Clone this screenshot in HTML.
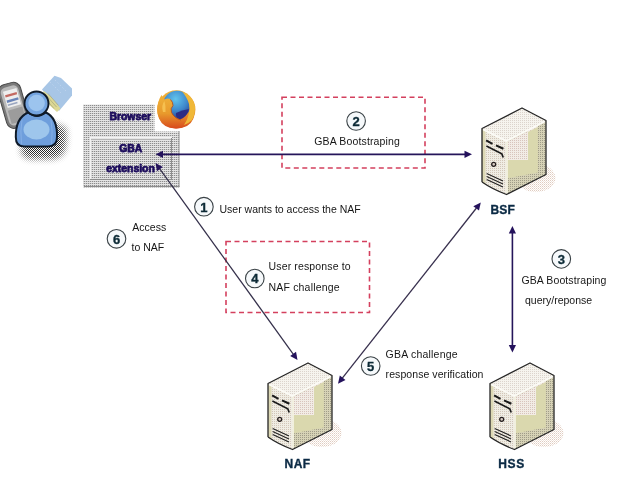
<!DOCTYPE html>
<html><head><meta charset="utf-8">
<style>
html,body{margin:0;padding:0;background:#fff;width:620px;height:480px;overflow:hidden}
svg{display:block;will-change:transform}
text{font-family:"Liberation Sans",sans-serif}
.t{font-size:10.5px;fill:#161616}
.num{font-size:13px;font-weight:bold;fill:#0c2a36;stroke:#0c2a36;stroke-width:0.35}
.lbl{font-size:12px;font-weight:bold;fill:#0b2a44;stroke:#0b2a44;stroke-width:0.35;letter-spacing:0.2px}
.bt{font-size:10px;font-weight:bold;fill:#1c0c5c;stroke:#1c0c5c;stroke-width:0.75}
</style></head>
<body>
<svg width="620" height="480" viewBox="0 0 620 480">
<defs>
  <pattern id="dots" x="0" y="1" width="2" height="2" patternUnits="userSpaceOnUse">
    <rect width="2" height="2" fill="#e4e4e4"/>
    <rect x="1" width="1" height="1" fill="#d0d0d0"/>
    <rect width="1" height="1" fill="#8c8c8c"/>
  </pattern>
  <filter id="blur3" x="-50%" y="-50%" width="200%" height="200%"><feGaussianBlur stdDeviation="3"/></filter>
  <pattern id="checker" width="2" height="2" patternUnits="userSpaceOnUse">
    <rect width="2" height="2" fill="#fff" fill-opacity="0"/>
    <rect width="1" height="1" fill="#000"/>
    <rect x="1" y="1" width="1" height="1" fill="#000"/>
  </pattern>
  <mask id="shmask">
    <path d="M23,141 Q23,122 39,120 Q53,122 66,128 Q67.5,147 63,154 Q58,159 50,159 L31,159 Q21,158 21,150 Z" fill="#fff" filter="url(#blur3)"/>
  </mask>
  <radialGradient id="shadowg" cx="0.5" cy="0.5" r="0.5">
    <stop offset="0" stop-color="#555" stop-opacity="0.85"/>
    <stop offset="0.6" stop-color="#666" stop-opacity="0.6"/>
    <stop offset="1" stop-color="#888" stop-opacity="0"/>
  </radialGradient>
  <linearGradient id="foxg" x1="0" y1="0" x2="0" y2="1">
    <stop offset="0" stop-color="#f0b23a"/>
    <stop offset="0.55" stop-color="#e89a2c"/>
    <stop offset="1" stop-color="#d84a1e"/>
  </linearGradient>
  <radialGradient id="globeg" cx="0.45" cy="0.3" r="0.7">
    <stop offset="0" stop-color="#62c4ec"/>
    <stop offset="0.6" stop-color="#3e88cc"/>
    <stop offset="1" stop-color="#2c4898"/>
  </radialGradient>
  <marker id="ah" viewBox="0 0 10 10" refX="10" refY="5" markerWidth="8" markerHeight="7" markerUnits="userSpaceOnUse" orient="auto-start-reverse">
    <path d="M0,0 L10,5 L0,10 L2.5,5 z" fill="#25155a"/>
  </marker>
  <pattern id="pinkdots" width="2" height="2" patternUnits="userSpaceOnUse">
    <rect width="2" height="2" fill="#f2ece6"/>
    <rect width="1" height="1" fill="#d8c4bc"/>
  </pattern>
  <pattern id="topdots" width="2" height="2" patternUnits="userSpaceOnUse">
    <rect width="2" height="2" fill="#f6f4ee"/>
    <rect width="1" height="1" fill="#dcd4cc"/>
  </pattern>
  <pattern id="darkdots" width="2" height="2" patternUnits="userSpaceOnUse">
    <rect width="2" height="2" fill="#d6d2b6"/>
    <rect width="1" height="1" fill="#a09c88"/>
  </pattern>
  <pattern id="shdots" width="2" height="2" patternUnits="userSpaceOnUse">
    <rect width="2" height="2" fill="#ffffff"/>
    <rect width="1" height="1" fill="#e0ccc0"/>
    <rect x="1" y="1" width="1" height="1" fill="#f0e4dc"/>
  </pattern>
  <pattern id="frontdots" width="2" height="2" patternUnits="userSpaceOnUse">
    <rect width="2" height="2" fill="#f0ede4"/>
    <rect width="1" height="1" fill="#d2c6b8"/>
  </pattern>
  <g id="server">
    <!-- shadow -->
    <ellipse cx="14" cy="70" rx="19.5" ry="14" fill="url(#shdots)"/>
    <!-- front face -->
    <path d="M-40,20.5 L-15.5,33 L-15.5,86.5 Q-30,81 -40,74 Z" fill="url(#frontdots)"/>
    <path d="M-40,20.5 L-36.5,22.3 L-36.5,76.5 L-40,74 Z" fill="#dcd8b4"/>
    <!-- side face -->
    <polygon points="-15.5,33 24,12.5 24,66.5 -15.5,86.5" fill="url(#darkdots)"/>
    <polygon points="-14.8,70.5 -14.8,52 6,52 6,22 15.8,17 15.8,64.5" fill="#dad8ae"/>
    <polygon points="-14.8,34 6,23.3 6,52 -14.8,52" fill="url(#pinkdots)"/>
    <polygon points="6,21.3 15.8,16.2 15.8,19 6,24" fill="url(#pinkdots)"/>
    <line x1="-15" y1="33.5" x2="-15" y2="86" stroke="#f4f2e2" stroke-width="1.8"/>
    <!-- top face -->
    <polygon points="0,0 24,12.5 -15.5,33 -40,20.5" fill="url(#topdots)"/>
    <polyline points="-39,21.5 -15.5,33 23,13.5" fill="none" stroke="#fcfbf6" stroke-width="1.6"/>
    <!-- outline -->
    <path d="M-40,74 L-40,20.5 L0,0 L24,12.5 L24,66.5 L-15.5,86.5 Q-30,81 -40,74" fill="none" stroke="#262626" stroke-width="1.3" stroke-linejoin="round"/>
    <!-- drive slots -->
    <path d="M-35.9,32.3 L-29.5,35.8 M-26,37.4 L-18.6,40.8" fill="none" stroke="#1a1a1a" stroke-width="2.1"/>
    <path d="M-35.6,38 L-20.2,45.8 L-18.8,49.5" fill="none" stroke="#1a1a1a" stroke-width="1.7"/>
    <circle cx="-28.3" cy="56.3" r="2" fill="#d8ccc4" stroke="#262020" stroke-width="1.3"/>
    <path d="M-35.3,65.6 L-19,72.9 M-35.3,68.6 L-19,75.9 M-35.3,71.6 L-19,78.9" fill="none" stroke="#222" stroke-width="1.1"/>
  </g>
</defs>

<!-- dashed boxes -->
<rect x="282" y="97.2" width="143" height="70.8" fill="none" stroke="#d4405e" stroke-width="1.6" stroke-dasharray="5 3.5"/>
<rect x="226" y="241.5" width="143.5" height="71" fill="none" stroke="#d4405e" stroke-width="1.6" stroke-dasharray="5 3.5"/>

<!-- person / phone / sim -->
<g>
  <rect x="10" y="110" width="70" height="56" fill="url(#checker)" mask="url(#shmask)" opacity="0.85"/>
  <!-- phone -->
  <g transform="rotate(-16 13 105)">
    <rect x="2" y="83" width="23" height="45" rx="7.5" fill="#7a7a7a" stroke="#4a4a4a" stroke-width="1"/>
    <rect x="4.5" y="86" width="18" height="39" rx="5" fill="#bababa"/>
    <rect x="7" y="89.5" width="14" height="17" fill="#eeeeee"/>
    <rect x="8" y="93.5" width="12" height="2.2" fill="#c46a62"/>
    <rect x="8" y="99" width="12" height="2.4" fill="#6a84b8"/>
    <rect x="8" y="103" width="10" height="1.5" fill="#9aa6c0"/>
    <rect x="6.5" y="109" width="15" height="14" fill="#9c9c9c"/>
  </g>
  <!-- sim -->
  <polygon points="54.5,75.8 61,78 72,88.5 72,95.5 59,111 42,89.5" fill="#a8c6e6"/>
  <polygon points="44,91 52,98 60.5,108.5 57,112 40.5,97" fill="#dcd896"/>
  <path d="M45.5,94.5 L56.5,107 M48,93.5 L58.5,105.5 M43,96 L54,108.5" stroke="#a8a878" stroke-width="0.7"/>
  <path d="M50,82 L62,94 M55,80 L67,92" stroke="#c0d4ee" stroke-width="0.8" stroke-dasharray="1.5 2"/>
  <!-- body -->
  <path d="M15.8,137 Q15.5,118 28,112.5 Q33,116 37,116 Q41,116 46,112.5 Q57.5,118 57,137 Q57,146.5 48,146.5 L24,146.5 Q15.8,146.5 15.8,137 Z" fill="#6e9edc" stroke="#0f1a28" stroke-width="2"/>
  <ellipse cx="36.5" cy="129.5" rx="13" ry="10" fill="#9ec6ec"/>
  <path d="M22,120 Q20,130 21.5,144 M51,120 Q53,130 51.5,144" fill="none" stroke="#8ab4e8" stroke-width="0.8"/>
  <!-- head -->
  <circle cx="36.5" cy="103.5" r="12" fill="#74a4e0" stroke="#0f1a28" stroke-width="1.9"/>
  <circle cx="36.6" cy="103" r="8.3" fill="#9cc4ee"/>
</g>

<!-- browser box -->
<path d="M83,104.5 L154.5,104.5 L154.5,131.5 L179.5,131.5 L179.5,187.5 L83,187.5 Z" fill="url(#dots)"/>
<line x1="90" y1="137.5" x2="172" y2="137.5" stroke="#f2f2f2" stroke-width="1"/>
<line x1="90.5" y1="138" x2="90.5" y2="180" stroke="#f2f2f2" stroke-width="1"/>
<line x1="91" y1="139.5" x2="171" y2="139.5" stroke="#b4b4b4" stroke-width="1"/>
<line x1="171.5" y1="138" x2="171.5" y2="180" stroke="#8e8e8e" stroke-width="1"/>
<line x1="90" y1="179.5" x2="172" y2="179.5" stroke="#8e8e8e" stroke-width="1"/>
<line x1="84" y1="186.5" x2="179.5" y2="186.5" stroke="#8c8c8c" stroke-width="1.2"/>
<line x1="179" y1="131" x2="179" y2="187" stroke="#9a9a9a" stroke-width="1"/>
<text class="bt" x="109.5" y="119.7" textLength="41.5" lengthAdjust="spacingAndGlyphs">Browser</text>
<text class="bt" x="119.3" y="151.5" textLength="22.8" lengthAdjust="spacingAndGlyphs">GBA</text>
<text class="bt" x="106.3" y="171.6" textLength="48.5" lengthAdjust="spacingAndGlyphs">extension</text>

<!-- firefox -->
<g>
  <circle cx="176.3" cy="109.4" r="19.1" fill="url(#foxg)"/>
  <circle cx="177" cy="104.6" r="13.8" fill="url(#globeg)"/>
  <path d="M176,113 Q182,110 189,109 Q187,117 180,119.5 Q175,118 176,113 Z" fill="#2c2c84"/>
  <path d="M157.2,110 Q157.4,101 161.5,95 L164.5,99.5 Q168,97.5 170.5,99.5 Q173,102 173,105.5 Q170,108.5 171.5,112.5 Q174.5,118.5 181,120 Q189,120 192.5,112 Q193.8,109 194.8,106 Q195.8,121 187,126 Q181,128.6 175.5,128.5 Q163,128 159,118.5 Q157.2,114 157.2,110 Z" fill="url(#foxg)"/>
  <path d="M170.5,99.5 Q173,102 173,105.5 Q170,108.5 171.5,112.5 Q174.5,118.5 181,120" fill="none" stroke="#b8501c" stroke-width="0.9"/>
  <path d="M182,91.5 Q192,95 195,106 Q195.2,115 192,120 Q188,124 184,125 Q191,114 189,104 Q187,97 182,91.5 Z" fill="#f0b838"/>
  <path d="M163,112 Q161,105 164.5,101 Q166,106 165.5,112 Z" fill="#f6c050"/>
</g>

<!-- arrows -->
<line x1="162.50" y1="154.30" x2="465.00" y2="154.30" stroke="#25155a" stroke-width="1.7"/>
<polygon points="155.50,154.30 163.00,157.90 163.00,150.70" fill="#24125c"/>
<polygon points="472.00,154.30 464.50,157.90 464.50,150.70" fill="#24125c"/>
<line x1="159.59" y1="168.68" x2="293.41" y2="354.32" stroke="#34304a" stroke-width="1.25"/>
<polygon points="155.50,163.00 156.97,171.19 162.81,166.98" fill="#24125c"/>
<polygon points="297.50,360.00 290.19,356.02 296.03,351.81" fill="#24125c"/>
<line x1="342.33" y1="378.20" x2="476.47" y2="208.00" stroke="#38304e" stroke-width="1.3"/>
<polygon points="338.00,383.70 345.47,380.04 339.81,375.58" fill="#24125c"/>
<polygon points="480.80,202.50 478.99,210.62 473.33,206.16" fill="#24125c"/>
<line x1="512.40" y1="233.00" x2="512.40" y2="345.50" stroke="#25155a" stroke-width="1.6"/>
<polygon points="512.40,226.00 508.80,233.50 516.00,233.50" fill="#24125c"/>
<polygon points="512.40,352.50 508.80,345.00 516.00,345.00" fill="#24125c"/>

<!-- servers -->
<use href="#server" x="522" y="108"/>
<use href="#server" x="308" y="363"/>
<use href="#server" x="530" y="363"/>
<text class="lbl" x="490.5" y="213.5">BSF</text>
<text class="lbl" x="284.6" y="467.9" textLength="25.6">NAF</text>
<text class="lbl" x="498.3" y="468.4" textLength="26.2">HSS</text>

<!-- circles -->
<g fill="#f6f9fb" stroke="#3a4246" stroke-width="1.1">
  <circle cx="356.1" cy="121" r="9.3"/>
  <circle cx="203.9" cy="206.7" r="9.3"/>
  <circle cx="561.3" cy="258.9" r="9.3"/>
  <circle cx="254.8" cy="278.5" r="9.3"/>
  <circle cx="370.7" cy="366" r="9.3"/>
  <circle cx="116.5" cy="238.8" r="9.3"/>
</g>
<g class="num" text-anchor="middle">
  <text x="356.1" y="125.7">2</text>
  <text x="203.9" y="211.5">1</text>
  <text x="561.3" y="263.6">3</text>
  <text x="254.8" y="283.2">4</text>
  <text x="370.7" y="370.8">5</text>
  <text x="116.5" y="243.6">6</text>
</g>

<!-- labels -->
<text class="t" x="314.3" y="144.8" textLength="85.5">GBA Bootstraping</text>
<text class="t" x="219.5" y="213">User wants to access the NAF</text>
<text class="t" x="132.3" y="231">Access</text>
<text class="t" x="131.6" y="250.5">to NAF</text>
<text class="t" x="268.6" y="270.2" textLength="82">User response to</text>
<text class="t" x="268.6" y="291" textLength="70.9">NAF challenge</text>
<text class="t" x="521.4" y="284.2" textLength="85">GBA Bootstraping</text>
<text class="t" x="525" y="304">query/reponse</text>
<text class="t" x="385.6" y="357.8" textLength="72">GBA challenge</text>
<text class="t" x="385.6" y="377.7" textLength="97.8">response verification</text>
</svg>
</body></html>
